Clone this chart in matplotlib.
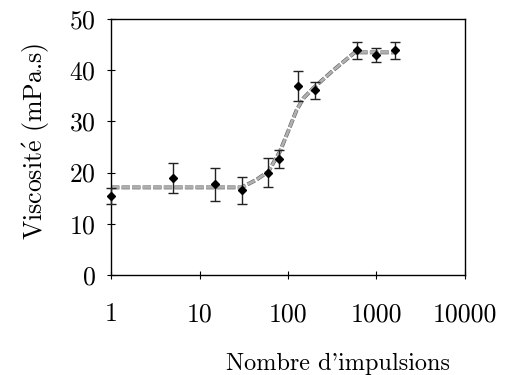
import matplotlib
matplotlib.use("Agg")
import matplotlib.pyplot as plt
import matplotlib.patheffects as pe
from matplotlib.ticker import FixedLocator, FixedFormatter, LogLocator, NullFormatter

# measured points
pulses = [1, 5, 15, 30, 60, 80, 130, 200, 600, 1000, 1600]
visc = [15.4, 19.0, 17.7, 16.5, 20.0, 22.6, 36.9, 36.1, 43.9, 43.0, 43.9]
visc_err = [1.5, 2.9, 3.2, 2.7, 2.9, 1.8, 2.9, 1.7, 1.6, 1.4, 1.6]

# fitted curve
fit_x = [1, 30, 44, 60, 81, 100, 125, 149, 193, 325, 570, 1600]
fit_y = [17.1, 17.1, 18.6, 20.2, 24.1, 28.0, 32.2, 34.5, 36.5, 40.0, 43.5, 43.5]

xticks = [1, 10, 100, 1000, 10000]
xtick_labels = ["1", "10", "100", "1000", "10000"]
yticks = [0, 10, 20, 30, 40, 50]

plt.rcParams["font.family"] = ["cmr10", "DejaVu Serif"]
plt.rcParams["mathtext.fontset"] = "cm"
plt.rcParams["axes.formatter.use_mathtext"] = True

fig = plt.figure(figsize=(5.07, 3.75), dpi=100)
ax = fig.add_axes([0.219, 0.267, 0.698, 0.682])

ax.plot(fit_x, fit_y, color="#b0b0b0", linewidth=2.0, dashes=(3, 0.8),
        path_effects=[pe.Stroke(linewidth=2.8, foreground="#606060"), pe.Normal()],
        zorder=2)
ax.errorbar(pulses, visc, yerr=visc_err, fmt="D", color="black", markersize=4.5,
            ecolor="#222222", elinewidth=1.0, capsize=3.5, capthick=1.0, zorder=3,
            clip_on=False)

ax.set_xscale("log")
ax.set_xlim(1, 10000)
ax.set_ylim(0, 50)
ax.xaxis.set_major_locator(FixedLocator(xticks))
ax.xaxis.set_major_formatter(FixedFormatter(xtick_labels))
ax.xaxis.set_minor_locator(LogLocator(base=10, subs=range(2, 10)))
ax.xaxis.set_minor_formatter(NullFormatter())
ax.set_yticks(yticks)

ax.tick_params(axis="x", which="major", direction="inout", length=6, width=0.8,
               labelsize=18.5, pad=17)
ax.tick_params(axis="x", which="minor", direction="in", length=3, width=0.6)
ax.tick_params(axis="y", which="major", direction="inout", length=6, width=0.8,
               labelsize=18.5, pad=8)
for s in ax.spines.values():
    s.set_linewidth(1.0)

ax.set_xlabel("Nombre d'impulsions", fontsize=17.5, labelpad=19, x=0.64)
ax.set_ylabel(r"Viscosit$\acute{\mathrm{e}}$ (mPa.s)", fontsize=20, labelpad=12, y=0.52)

# size the y label so that it spans ~197 px like the original
fig.canvas.draw()
ylab = ax.yaxis.label
ylab.set_fontsize(20 * 197 / ylab.get_window_extent().height)

fig.savefig("out.png", dpi=100)
